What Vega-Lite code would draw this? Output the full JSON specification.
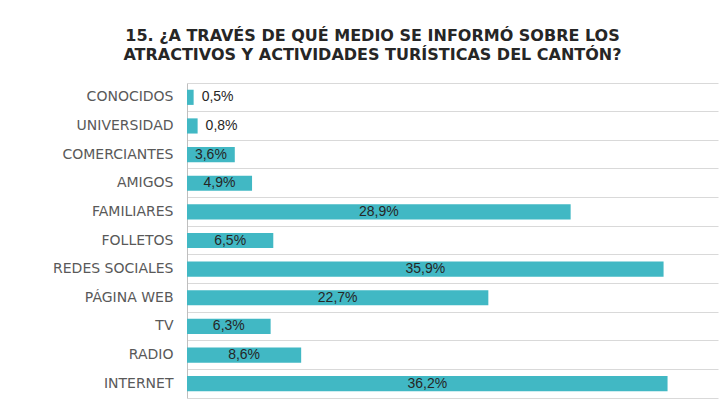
{
  "$schema": "https://vega.github.io/schema/vega-lite/v6.json",
  "width": 531,
  "height": 315,
  "autosize": {"type": "none"},
  "padding": {"left": 187, "top": 83, "right": 3, "bottom": 13},
  "background": "white",
  "config": {
    "view": {"stroke": null},
    "locale": {"number": {"decimal": ",", "thousands": ".", "grouping": [3], "currency": ["", " €"]}}
  },
  "title": {
    "text": ["15. ¿A TRAVÉS DE QUÉ MEDIO SE INFORMÓ SOBRE LOS", "ATRACTIVOS Y ACTIVIDADES TURÍSTICAS DEL CANTÓN?"],
    "font": "DejaVu Sans",
    "fontWeight": "bold",
    "fontSize": 16,
    "lineHeight": 19,
    "color": "#262626",
    "anchor": "middle",
    "dx": -80,
    "offset": 20
  },
  "data": {
    "values": [
      {"medio": "CONOCIDOS", "value": 0.005},
      {"medio": "UNIVERSIDAD", "value": 0.008},
      {"medio": "COMERCIANTES", "value": 0.036},
      {"medio": "AMIGOS", "value": 0.049},
      {"medio": "FAMILIARES", "value": 0.289},
      {"medio": "FOLLETOS", "value": 0.065},
      {"medio": "REDES SOCIALES", "value": 0.359},
      {"medio": "PÁGINA WEB", "value": 0.227},
      {"medio": "TV", "value": 0.063},
      {"medio": "RADIO", "value": 0.086},
      {"medio": "INTERNET", "value": 0.362}
    ]
  },
  "encoding": {
    "y": {
      "field": "medio",
      "type": "nominal",
      "sort": null,
      "scale": {"paddingInner": 0, "paddingOuter": 0},
      "axis": {
        "title": null,
        "ticks": false,
        "grid": true,
        "bandPosition": 0,
        "gridColor": "#d9d9d9",
        "gridWidth": 1,
        "domainColor": "#bfbfbf",
        "labelFont": "DejaVu Sans",
        "labelFontSize": 14,
        "labelColor": "#595959",
        "labelPadding": 14
      }
    }
  },
  "layer": [
    {
      "mark": {"type": "bar", "color": "#41b8c4", "height": {"band": 0.53}},
      "encoding": {
        "x": {
          "field": "value",
          "type": "quantitative",
          "scale": {"domain": [0, 0.4], "nice": false},
          "axis": {"title": null, "labels": false, "ticks": false, "grid": false, "domainColor": "#d9d9d9"}
        }
      }
    },
    {
      "transform": [{"filter": "datum.value >= 0.02"}, {"calculate": "datum.value / 2", "as": "mid"}],
      "mark": {"type": "text", "font": "Liberation Sans", "fontSize": 14, "color": "#262626", "align": "center", "baseline": "middle"},
      "encoding": {
        "x": {"field": "mid", "type": "quantitative"},
        "text": {"field": "value", "type": "quantitative", "format": ".1%"}
      }
    },
    {
      "transform": [{"filter": "datum.value < 0.02"}],
      "mark": {"type": "text", "font": "Liberation Sans", "fontSize": 14, "color": "#262626", "align": "left", "baseline": "middle", "dx": 8},
      "encoding": {
        "x": {"field": "value", "type": "quantitative"},
        "text": {"field": "value", "type": "quantitative", "format": ".1%"}
      }
    }
  ]
}
